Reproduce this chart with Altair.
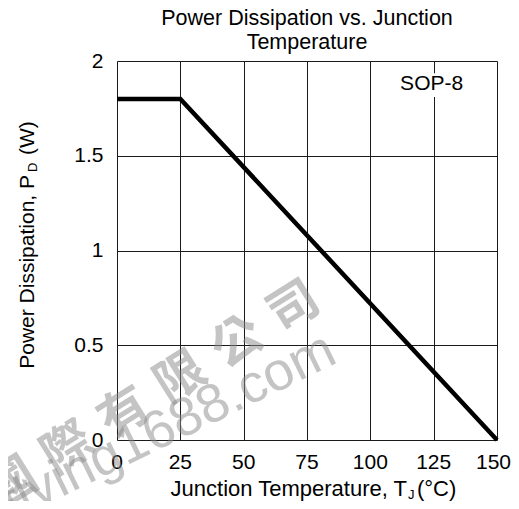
import altair as alt
import pandas as pd

# ---- data ----
temp_c = [0, 25, 150]
power_w = [1.8, 1.8, 0.0]
x_ticks = [0, 25, 50, 75, 100, 125, 150]
y_ticks = [0, 0.5, 1, 1.5, 2]
title_lines = ["Power Dissipation vs. Junction", "Temperature"]
package_label = "SOP-8"
label_temp = [124.2]
label_power = [1.845]
box_x = [112.5]
box_x2 = [136.5]
box_y = [1.81]
box_y2 = [1.935]
wm_cn = "\u570b\u2004\u969b\u2004\u6709\u2004\u9650\u2004\u516c\u2004\u53f8"
wm_en = "flying1688.com"

FONT = "Liberation Sans"
W, H = 380, 379

df = pd.DataFrame({"t": temp_c, "p": power_w})

xscale = alt.Scale(domain=[0, 150], nice=False, zero=False)
yscale = alt.Scale(domain=[0, 2], nice=False)

xaxis = alt.Axis(values=x_ticks, grid=True, gridColor="#1a1a1a", gridWidth=1,
                 ticks=False, tickSize=0, domain=False, title=None, labels=False)
yaxis = alt.Axis(values=y_ticks, grid=True, gridColor="#1a1a1a", gridWidth=1,
                 ticks=False, tickSize=0, domain=False, title=None, format="~g",
                 labelFont=FONT, labelFontSize=21, labelColor="#000",
                 labelPadding=14, labelFlush=False, labelOverlap=False)

line = alt.Chart(df).mark_line(color="#000", strokeWidth=4.5, strokeCap="butt",
                               strokeJoin="miter", clip=False).encode(
    x=alt.X("t:Q", scale=xscale, axis=xaxis),
    y=alt.Y("p:Q", scale=yscale, axis=yaxis),
)

# x tick labels drawn through the x scale (last one kept inside the page)
xlab_df = pd.DataFrame({"v": x_ticks, "s": [str(v) for v in x_ticks]})
xlab_mid = alt.Chart(xlab_df[:-1]).mark_text(
    font=FONT, fontSize=21, color="#000", align="center", baseline="alphabetic").encode(
    x=alt.X("v:Q", scale=xscale), y=alt.value(H + 29), text="s:N")
xlab_end = alt.Chart(xlab_df[-1:]).mark_text(
    font=FONT, fontSize=21, color="#000", align="right", baseline="alphabetic", dx=14).encode(
    x=alt.X("v:Q", scale=xscale), y=alt.value(H + 29), text="s:N")

box = alt.Chart(pd.DataFrame({"x": box_x, "x2": box_x2, "y": box_y, "y2": box_y2})).mark_rect(
    color="white").encode(
    x=alt.X("x:Q", scale=xscale), x2="x2:Q",
    y=alt.Y("y:Q", scale=yscale), y2="y2:Q")

pkg = alt.Chart(pd.DataFrame({"t": label_temp, "p": label_power, "s": [package_label]})).mark_text(
    font=FONT, fontSize=21, color="#000", align="center", baseline="alphabetic").encode(
    x=alt.X("t:Q", scale=xscale), y=alt.Y("p:Q", scale=yscale), text="s:N")


def txt(s, x, y, size=22, align="center", angle=0, color="#000", opacity=1.0,
        font=FONT, baseline="alphabetic", weight="normal"):
    kw = dict(font=font, fontSize=size, align=align, baseline=baseline,
              color=color, opacity=opacity, fontWeight=weight)
    if angle:
        kw["angle"] = angle
    return alt.Chart(pd.DataFrame({"s": [s]})).mark_text(**kw).encode(
        text="s:N", x=alt.value(x), y=alt.value(y))


layers = [
    line, box, pkg, xlab_mid, xlab_end,
    # title
    txt(title_lines[0], W / 2, -36, size=21.5),
    txt(title_lines[1], W / 2, -12, size=21.5),
    # x axis title with subscript
    txt("Junction Temperature, T", 290, 435, size=22, align="right"),
    txt("J", 291, 438, size=13, align="left"),
    txt("(\u00b0C)", 300, 435, size=22, align="left"),
    # y axis title with subscript (rotated)
    txt("Power Dissipation, P", -83, 114, size=21, align="right", angle=270),
    txt("D", -80, 111, size=13, align="left", angle=270),
    txt("(W)", -83, 94, size=21, align="left", angle=270),
    # watermark
    txt(wm_cn, 36, 335, size=50, angle=328, color="#8a8a8a", opacity=0.5,
        font="Noto Sans CJK TC", baseline="middle", weight="bold"),
    txt(wm_en, 52, 366, size=54, angle=334, color="#8a8a8a", opacity=0.5,
        font=FONT, baseline="middle"),
]

chart = alt.layer(*layers).properties(
    width=W, height=H,
    autosize=alt.AutoSizeParams(type="none"),
    padding={"left": 109, "top": 53, "right": 14, "bottom": 61},
).configure_view(stroke="#000", strokeWidth=1.6).configure(background="white")

chart.save("out.html", embed_options={"renderer": "svg", "actions": False})
